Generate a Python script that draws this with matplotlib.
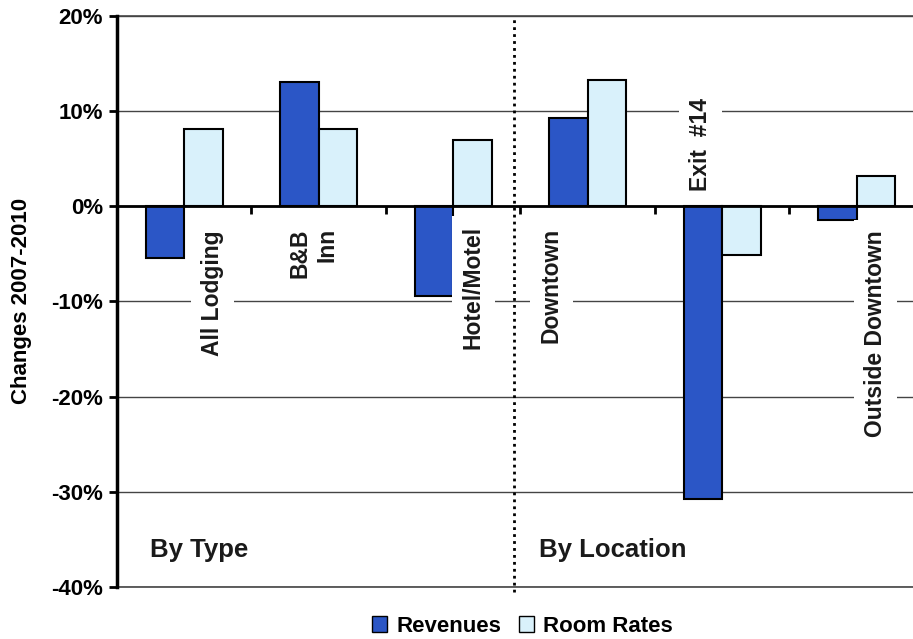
import numpy as np
import matplotlib
matplotlib.use("Agg")
import matplotlib.pyplot as plt
from matplotlib.patches import Patch

plt.rcParams['font.family'] = ['Liberation Sans', 'DejaVu Sans']
plt.rcParams['font.weight'] = 'bold'

categories = ['All Lodging', 'B&B\nInn', 'Hotel/Motel', 'Downtown', 'Exit  #14', 'Outside Downtown']
revenues = [-5.4, 13.0, -9.4, 9.3, -30.8, -1.5]          # % change 2007-2010
room_rates = [8.1, 8.1, 6.9, 13.3, -5.1, 3.2]
yticks = [-40, -30, -20, -10, 0, 10, 20]

# where each category name sits (x offset from group centre, top/bottom of text in %)
label_dx = [0.21, -0.04, 0.15, -0.27, -0.16, 0.14]
label_y = [-2.5, -2.3, -2.1, -2.3, 1.6, -2.5]
label_va = ['top', 'top', 'top', 'top', 'bottom', 'top']

rev_color = '#2b56c6'
rate_color = '#d9f1fb'

fig = plt.figure(figsize=(9.13, 6.39), dpi=100)
ax = fig.add_axes([0.128, 0.0814, 0.884, 0.894])

x = np.arange(len(categories))
w = 0.286
ax.bar(x - w/2, revenues, w, color=rev_color, edgecolor='black', linewidth=1.5, zorder=3)
ax.bar(x + w/2, room_rates, w, color=rate_color, edgecolor='black', linewidth=1.5, zorder=3)

ax.set_xlim(-0.5, len(categories) - 0.5)
ax.set_ylim(-40, 20)
ax.set_yticks(yticks)
ax.set_yticklabels([f'{t}%' for t in yticks], fontsize=16, fontweight='bold')
ax.yaxis.grid(True, color='#444444', linewidth=1)
ax.set_axisbelow(True)
for t in (yticks[0], yticks[-1]):
    ax.axhline(t, color='#444444', linewidth=1.2, clip_on=False, zorder=1)

ax.set_xticks(np.arange(len(categories) - 1) + 0.5)
ax.set_xticklabels([])
ax.tick_params(axis='x', direction='out', length=6, width=2)
ax.tick_params(axis='y', direction='out', length=6, width=2, pad=4)

ax.spines['bottom'].set_position(('data', 0))
ax.spines['bottom'].set_linewidth(2)
ax.spines['bottom'].set_zorder(5)
ax.spines['left'].set_linewidth(2.5)
ax.spines['left'].set_zorder(5)
ax.spines['top'].set_visible(False)
ax.spines['right'].set_visible(False)

for i, name in enumerate(categories):
    ax.text(i + label_dx[i], label_y[i], name, rotation=90, ha='center', va=label_va[i],
            multialignment='right', fontsize=16.5, fontweight='bold', color='#1a1a1a',
            bbox=dict(boxstyle='square,pad=0.45', facecolor='white', edgecolor='none'),
            zorder=4)

# divider between the two groupings
ax.plot([2.45, 2.45], [-40.5, 20], linestyle=(0, (1, 1.5)), color='black', linewidth=2,
        clip_on=False, zorder=4)

ax.text(-0.25, -36.9, 'By Type', fontsize=18.5, fontweight='bold', color='#1a1a1a')
ax.text(2.64, -36.9, 'By Location', fontsize=18.5, fontweight='bold', color='#1a1a1a')

ax.set_ylabel('Changes 2007-2010', fontsize=16, fontweight='bold', labelpad=14)

handles = [Patch(facecolor=rev_color, edgecolor='black', label='Revenues'),
           Patch(facecolor=rate_color, edgecolor='black', label='Room Rates')]
fig.legend(handles=handles, loc='center', bbox_to_anchor=(0.572, 0.02), ncol=2, frameon=False,
           prop={'size': 16, 'weight': 'bold'}, handlelength=0.7, handleheight=0.7,
           handletextpad=0.4, columnspacing=0.8)

fig.savefig('out.png', dpi=100)
